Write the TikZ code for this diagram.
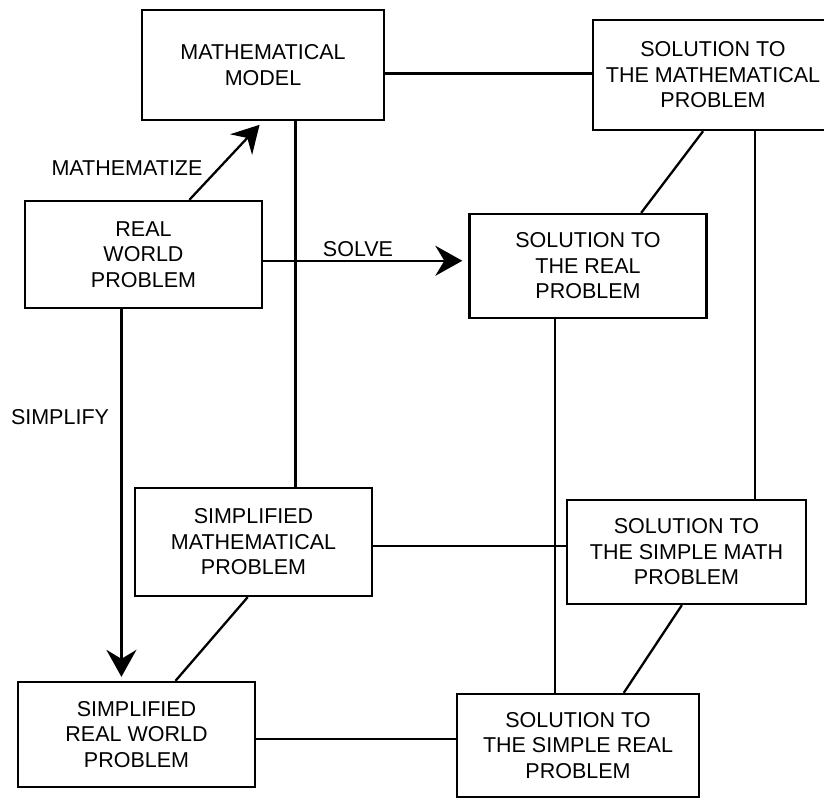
\documentclass[tikz,border=0pt]{standalone}
\usepackage{fontspec}
\setmainfont{Liberation Sans}
\usetikzlibrary{arrows.meta}
\begin{document}
\begin{tikzpicture}[x=1pt,y=-1pt,
  stage/.style={draw, line width=2.3pt, align=center, inner sep=0pt,
    font=\fontsize{21.5}{25.5}\selectfont},
  link/.style={line width=2.3pt},
  flow/.style={line width=2.3pt, -{Stealth[length=27pt,width=30pt,inset=9pt]}},
  tag/.style={inner sep=0pt, font=\fontsize{21.5}{25}\selectfont}]
\path[use as bounding box] (0,0) rectangle (824,799);
\clip (0,0) rectangle (824,799);

% the eight stages
\node[stage, minimum width=242pt, minimum height=110pt] (mm)     at (263,65)    {MATHEMATICAL\\MODEL};
\node[stage, minimum width=240pt, minimum height=110pt] (smp)    at (713,75)    {SOLUTION TO\\THE MATHEMATICAL\\PROBLEM};
\node[stage, minimum width=237pt, minimum height=107pt] (rwp)    at (143.5,254.5) {REAL\\WORLD\\PROBLEM};
\node[stage, minimum width=237pt, minimum height=104pt] (srp)    at (588,266)   {SOLUTION TO\\THE REAL\\PROBLEM};
\node[stage, minimum width=237pt, minimum height=108pt] (smathp) at (253.5,542) {SIMPLIFIED\\MATHEMATICAL\\PROBLEM};
\node[stage, minimum width=239pt, minimum height=104pt] (ssmp)   at (686.5,552) {SOLUTION TO\\THE SIMPLE MATH\\PROBLEM};
\node[stage, minimum width=237pt, minimum height=105pt] (srwp)   at (136.5,734.5) {SIMPLIFIED\\REAL WORLD\\PROBLEM};
\node[stage, minimum width=242pt, minimum height=103pt] (ssrp)   at (578,745.5) {SOLUTION TO\\THE SIMPLE REAL\\PROBLEM};

% labelled process arrows
\draw[flow, shorten >=5pt] (rwp.50) -- (mm.south);
\draw[flow, shorten >=6pt] (rwp.-3) -- (rwp.-3 -| srp.west);
\draw[flow, shorten >=4pt] (rwp.-112) -- (rwp.-112 |- srwp.north);

\node[tag] (mathematize) at (127,168) {MATHEMATIZE};
\node[tag] (solve)       at (358,249) {SOLVE};
\node[tag] (simplify)    at (60,417)  {SIMPLIFY};

% edges of the cube
\draw[link] (mm.-4) -- (mm.-4 -| smp.west);
\draw[link] (mm.-60) -- (mm.-60 |- smathp.north);
\draw[link] (smp.-53) -- (smp.-53 |- ssmp.north);
\draw[link] (smp.-100) -- (srp.45);
\draw[link] (srp.-122) -- (srp.-122 |- ssrp.north);
\draw[link] (smathp.-2) -- (smathp.-2 -| ssmp.west);
\draw[link] (smathp.-96) -- (srwp.54);
\draw[link] (ssmp.-95) -- (ssrp.49);
\draw[link] (srwp.-2) -- (srwp.-2 -| ssrp.west);
\end{tikzpicture}
\end{document}
